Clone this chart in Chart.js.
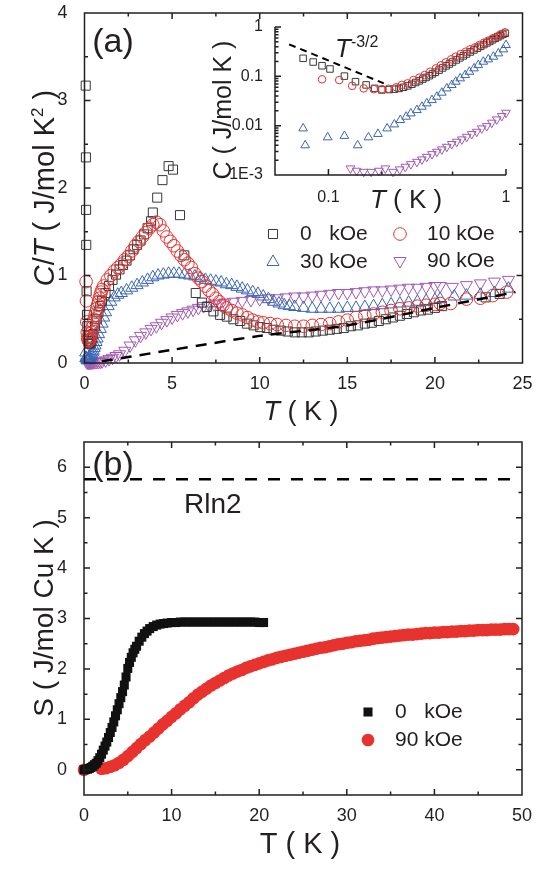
<!DOCTYPE html>
<html lang="en">
<head>
<meta charset="UTF-8">
<title>C/T and entropy vs T</title>
<script src="https://cdn.jsdelivr.net/npm/chart.js@4.4.1/dist/chart.umd.min.js"></script>
<style>
  body { margin: 0; background: #ffffff; }
  #wrap { position: relative; width: 547px; height: 875px; }
  canvas { position: absolute; }
  #chartA { left: 0; top: 0; }
  #chartIn { left: 180px; top: 10px; }
  #chartB { left: 0; top: 430px; }
</style>
</head>
<body>
<div id="wrap">
  <canvas id="chartA" width="547" height="430"></canvas>
  <canvas id="chartIn" width="340" height="210"></canvas>
  <canvas id="chartB" width="547" height="445"></canvas>
</div>

<script>
// ---- panel (a): C/T (J/mol K^2) vs T (K), pairs [T, C/T]
const ctA0 = [[0.07,3.17],[0.08,2.35],[0.09,1.75],[0.1,1.35],[0.12,0.82],[0.14,0.55],[0.16,0.42],[0.18,0.32],[0.2,0.27],[0.22,0.25],[0.25,0.23],[0.3,0.22],[0.35,0.23],[0.4,0.25],[0.45,0.29],[0.5,0.33],[0.6,0.42],[0.7,0.5],[0.8,0.58],[0.9,0.65],[1.0,0.71],[1.2,0.8],[1.4,0.88],[1.6,0.95],[1.8,1.01],[2.0,1.07],[2.2,1.12],[2.4,1.17],[2.6,1.23],[2.8,1.3],[3.0,1.35],[3.2,1.4],[3.4,1.47],[3.6,1.54],[3.8,1.62],[3.9,1.72],[4.15,1.89],[4.45,2.09],[4.8,2.25],[5.05,2.21],[5.45,1.69],[5.7,1.23],[6.35,0.8],[6.7,0.69],[6.98,0.64],[7.36,0.59],[7.74,0.55],[8.12,0.53],[8.5,0.5],[8.89,0.48],[9.27,0.45],[9.65,0.43],[10.03,0.41],[10.41,0.4],[10.79,0.38],[11.2,0.37],[11.6,0.36],[12.0,0.35],[12.4,0.35],[12.8,0.35],[13.2,0.36],[13.6,0.37],[14.0,0.38],[14.4,0.39],[14.8,0.4],[15.2,0.42],[15.6,0.43],[16.0,0.45],[16.4,0.46],[16.8,0.48],[17.2,0.5],[17.6,0.52],[18.0,0.54],[18.4,0.56],[18.8,0.58],[19.2,0.6],[19.6,0.61],[20.0,0.63],[20.4,0.65],[22.9,0.75],[23.7,0.79]];
const ctA10 = [[0.09,0.93],[0.11,0.71],[0.13,0.47],[0.155,0.35],[0.18,0.29],[0.21,0.26],[0.25,0.25],[0.3,0.27],[0.35,0.3],[0.4,0.35],[0.45,0.41],[0.5,0.46],[0.55,0.5],[0.6,0.54],[0.65,0.58],[0.7,0.62],[0.75,0.66],[0.8,0.7],[0.85,0.74],[0.9,0.78],[0.95,0.81],[1.0,0.84],[1.1,0.88],[1.3,0.95],[1.5,1.0],[1.7,1.05],[1.9,1.09],[2.1,1.13],[2.3,1.18],[2.5,1.22],[2.7,1.28],[2.9,1.34],[3.1,1.39],[3.3,1.44],[3.5,1.49],[3.7,1.54],[3.9,1.58],[4.1,1.61],[4.3,1.58],[4.5,1.51],[4.7,1.44],[4.9,1.39],[5.1,1.34],[5.3,1.28],[5.5,1.23],[5.7,1.18],[5.9,1.14],[6.1,1.09],[6.3,1.02],[6.5,0.97],[6.7,0.93],[6.9,0.88],[7.1,0.83],[7.3,0.79],[7.5,0.74],[7.7,0.7],[7.9,0.66],[8.1,0.63],[8.4,0.6],[8.7,0.57],[9.0,0.55],[9.3,0.52],[9.6,0.49],[9.9,0.47],[10.2,0.46],[10.6,0.45],[11.0,0.44],[11.5,0.43],[12.0,0.42],[12.5,0.42],[13.0,0.43],[13.5,0.44],[14.0,0.45],[14.5,0.47],[15.0,0.49],[15.5,0.52],[16.0,0.54],[16.5,0.56],[17.0,0.58],[17.5,0.6],[18.0,0.62],[18.5,0.63],[19.0,0.65],[19.5,0.66],[20.0,0.67],[20.3,0.68],[20.9,0.68],[21.8,0.73],[22.6,0.74],[23.3,0.77],[24.1,0.81]];
const ctA30 = [[0.07,0.12],[0.075,0.055],[0.1,0.058],[0.12,0.05],[0.15,0.03],[0.17,0.034],[0.19,0.036],[0.21,0.041],[0.24,0.046],[0.27,0.055],[0.3,0.063],[0.34,0.073],[0.38,0.085],[0.42,0.1],[0.46,0.12],[0.5,0.14],[0.55,0.17],[0.6,0.2],[0.66,0.24],[0.72,0.28],[0.8,0.33],[0.9,0.39],[1.0,0.45],[1.1,0.52],[1.2,0.58],[1.35,0.65],[1.5,0.7],[1.7,0.75],[1.9,0.78],[2.1,0.8],[2.4,0.83],[2.7,0.86],[3.0,0.89],[3.3,0.92],[3.6,0.95],[3.9,0.98],[4.2,1.0],[4.5,1.01],[4.8,1.02],[5.1,1.02],[5.4,1.02],[5.7,1.01],[6.0,1.0],[6.3,0.99],[6.6,0.97],[6.9,0.95],[7.2,0.94],[7.5,0.93],[7.8,0.92],[8.1,0.9],[8.4,0.89],[8.7,0.87],[9.0,0.85],[9.3,0.83],[9.6,0.81],[9.9,0.79],[10.2,0.76],[10.5,0.73],[10.8,0.7],[11.1,0.68],[11.4,0.66],[11.7,0.65],[12.0,0.64],[12.5,0.63],[13.0,0.62],[13.5,0.62],[14.0,0.62],[14.5,0.62],[15.0,0.63],[15.5,0.63],[16.0,0.64],[16.5,0.65],[17.0,0.66],[17.5,0.67],[18.0,0.68],[18.5,0.69],[19.0,0.7],[19.5,0.71],[20.0,0.72],[20.3,0.73],[21.1,0.76],[21.8,0.77],[22.6,0.78],[23.4,0.8],[24.2,0.85]];
const ctA90 = [[0.13,0.01],[0.17,0.007],[0.21,0.006],[0.25,0.005],[0.3,0.006],[0.35,0.006],[0.4,0.007],[0.45,0.008],[0.5,0.009],[0.6,0.01],[0.7,0.011],[0.8,0.013],[0.9,0.015],[1.0,0.018],[1.2,0.03],[1.4,0.045],[1.6,0.06],[1.8,0.08],[2.0,0.1],[2.3,0.14],[2.6,0.2],[2.9,0.26],[3.2,0.31],[3.5,0.35],[3.8,0.39],[4.1,0.42],[4.4,0.46],[4.7,0.49],[5.0,0.52],[5.3,0.55],[5.6,0.57],[5.9,0.59],[6.2,0.61],[6.5,0.63],[6.8,0.65],[7.1,0.66],[7.4,0.67],[7.7,0.68],[8.0,0.69],[8.5,0.7],[9.0,0.71],[9.5,0.72],[10.0,0.73],[10.5,0.74],[11.0,0.74],[11.5,0.75],[12.0,0.76],[12.5,0.76],[13.0,0.77],[13.5,0.78],[14.0,0.79],[14.5,0.8],[15.0,0.8],[15.5,0.81],[16.0,0.82],[16.5,0.83],[17.0,0.83],[17.5,0.84],[18.0,0.85],[18.5,0.86],[19.0,0.86],[19.5,0.87],[20.0,0.88],[20.3,0.88],[21.0,0.87],[21.8,0.89],[22.6,0.91],[23.4,0.93],[24.2,0.95]];
const ctPhonon = [[1.0,0.02],[5,0.15],[10,0.31],[15,0.43],[20,0.63],[24.6,0.81]];

// ---- inset: C (J/mol K) vs T (K), log-log
const cIn0 = [[0.072,0.232],[0.082,0.195],[0.092,0.164],[0.102,0.141],[0.123,0.101],[0.142,0.078],[0.163,0.067],[0.182,0.057],[0.2,0.053],[0.22,0.054],[0.235,0.055],[0.25,0.057],[0.265,0.06],[0.28,0.064],[0.295,0.069],[0.31,0.075],[0.325,0.081],[0.34,0.088],[0.355,0.095],[0.37,0.103],[0.385,0.112],[0.4,0.121],[0.42,0.134],[0.44,0.148],[0.46,0.163],[0.48,0.178],[0.5,0.195],[0.525,0.215],[0.55,0.237],[0.575,0.26],[0.6,0.284],[0.63,0.312],[0.66,0.342],[0.69,0.373],[0.72,0.405],[0.75,0.44],[0.78,0.475],[0.81,0.51],[0.84,0.55],[0.87,0.59],[0.9,0.63],[0.93,0.67],[0.96,0.71],[0.99,0.745]];
const cIn10 = [[0.092,0.087],[0.115,0.084],[0.136,0.064],[0.158,0.057],[0.18,0.055],[0.2,0.055],[0.218,0.056],[0.241,0.06],[0.259,0.067],[0.279,0.072],[0.301,0.084],[0.325,0.094],[0.348,0.106],[0.374,0.124],[0.403,0.145],[0.43,0.167],[0.458,0.192],[0.491,0.221],[0.521,0.25],[0.556,0.283],[0.594,0.316],[0.628,0.352],[0.67,0.387],[0.708,0.431],[0.752,0.481],[0.794,0.528],[0.842,0.589],[0.887,0.637],[0.933,0.71],[0.987,0.78]];
const cIn30 = [[0.072,0.0088],[0.074,0.004],[0.099,0.0058],[0.123,0.0062],[0.146,0.004],[0.168,0.0058],[0.19,0.0068],[0.214,0.0088],[0.235,0.0106],[0.254,0.013],[0.274,0.0152],[0.291,0.0177],[0.315,0.0207],[0.336,0.0242],[0.358,0.0283],[0.383,0.033],[0.408,0.0386],[0.435,0.0466],[0.464,0.057],[0.495,0.0666],[0.521,0.0778],[0.552,0.091],[0.589,0.106],[0.622,0.124],[0.661,0.145],[0.698,0.169],[0.745,0.198],[0.795,0.221],[0.849,0.25],[0.906,0.292],[0.966,0.352],[1.0,0.431]];
const cIn90 = [[0.133,0.00136],[0.144,0.00122],[0.158,0.00116],[0.174,0.00116],[0.192,0.00122],[0.209,0.00136],[0.231,0.00116],[0.252,0.0013],[0.271,0.00147],[0.291,0.00166],[0.315,0.00185],[0.336,0.00207],[0.358,0.00234],[0.383,0.00265],[0.408,0.00296],[0.435,0.0033],[0.464,0.00373],[0.495,0.00424],[0.528,0.00472],[0.564,0.00527],[0.601,0.00596],[0.641,0.00676],[0.684,0.00752],[0.73,0.0088],[0.779,0.0098],[0.832,0.0115],[0.887,0.0134],[0.946,0.0157],[1.0,0.0183]];
const cInPower = [[0.06,0.446],[0.205,0.072]];

// ---- panel (b): S (J/mol Cu K) vs T (K)
const sB0 = [[0,0],[0.2,0.005],[0.4,0.012],[0.6,0.025],[0.8,0.045],[1.0,0.07],[1.2,0.1],[1.4,0.13],[1.6,0.18],[1.8,0.24],[2.0,0.31],[2.2,0.39],[2.4,0.47],[2.6,0.55],[2.8,0.64],[3.0,0.74],[3.2,0.84],[3.4,0.95],[3.6,1.07],[3.8,1.19],[4.0,1.31],[4.2,1.43],[4.4,1.55],[4.6,1.68],[4.8,1.84],[5.0,2.01],[5.2,2.13],[5.4,2.23],[5.6,2.32],[5.8,2.39],[6.0,2.45],[6.3,2.55],[6.6,2.63],[6.9,2.7],[7.2,2.75],[7.5,2.8],[7.9,2.84],[8.3,2.87],[8.7,2.89],[9.1,2.9],[9.5,2.91],[10,2.92],[10.5,2.92],[11,2.93],[11.5,2.93],[12,2.93],[12.5,2.93],[13,2.93],[13.5,2.93],[14,2.93],[14.5,2.93],[15,2.93],[15.5,2.93],[16,2.93],[16.5,2.93],[17,2.93],[17.5,2.93],[18,2.93],[18.5,2.93],[19,2.93],[19.5,2.93],[20,2.92],[20.5,2.92]];
const sB90 = [[0,0],[2.0,0.02],[2.5,0.03],[3.0,0.06],[3.5,0.09],[4.0,0.14],[4.5,0.2],[5.0,0.27],[5.5,0.35],[6.0,0.43],[6.5,0.51],[7.0,0.59],[7.5,0.66],[8.0,0.74],[8.5,0.82],[9.0,0.9],[9.5,0.97],[10.0,1.05],[10.5,1.12],[11.0,1.2],[11.5,1.27],[12.0,1.34],[12.5,1.42],[13.0,1.49],[13.5,1.55],[14.0,1.61],[14.5,1.67],[15.0,1.72],[15.5,1.77],[16.0,1.82],[16.5,1.87],[17.0,1.91],[17.5,1.95],[18.0,1.98],[18.5,2.02],[19.0,2.05],[19.5,2.08],[20.0,2.11],[20.5,2.14],[21.0,2.17],[21.5,2.19],[22.0,2.22],[22.5,2.24],[23.0,2.26],[23.5,2.28],[24.0,2.3],[24.5,2.32],[25.0,2.34],[25.5,2.36],[26.0,2.38],[26.5,2.4],[27.0,2.42],[27.5,2.43],[28.0,2.45],[28.5,2.47],[29.0,2.49],[29.5,2.5],[30.0,2.52],[30.5,2.53],[31.0,2.55],[31.5,2.56],[32.0,2.57],[32.5,2.58],[33.0,2.6],[33.5,2.61],[34.0,2.62],[34.5,2.63],[35.0,2.64],[35.5,2.65],[36.0,2.66],[36.5,2.67],[37.0,2.68],[37.5,2.68],[38.0,2.69],[38.5,2.7],[39.0,2.71],[39.5,2.71],[40.0,2.72],[40.5,2.72],[41.0,2.73],[41.5,2.73],[42.0,2.74],[42.5,2.74],[43.0,2.75],[43.5,2.75],[44.0,2.76],[44.5,2.76],[45.0,2.77],[45.5,2.77],[46.0,2.77],[46.5,2.78],[47.0,2.78],[47.5,2.78],[48.0,2.79],[48.5,2.79],[49.0,2.79]];
const rln2 = [[0,5.76],[49,5.76]];

// ---- ticks
const aXMajor = [0, 5, 10, 15, 20, 25], aXMinor = [2.5, 7.5, 12.5, 17.5, 22.5];
const aYMajor = [0, 1, 2, 3, 4], aYMinor = [0.5, 1.5, 2.5, 3.5];
const inXMajor = [0.1, 1], inXMinor = [0.2, 0.5], inXLabels = ['0.1', '1'];
const inYMajor = [0.001, 0.01, 0.1, 1], inYLabels = ['1E-3', '0.01', '0.1', '1'];
const inYMinor = [0.002,0.003,0.004,0.005,0.006,0.007,0.008,0.009,0.02,0.03,0.04,0.05,0.06,0.07,0.08,0.09,0.2,0.3,0.4,0.5,0.6,0.7,0.8,0.9];
const bXMajor = [0, 10, 20, 30, 40, 50], bXMinor = [5, 15, 25, 35, 45];
const bYMajor = [0, 1, 2, 3, 4, 5, 6], bYMinor = [0.5, 1.5, 2.5, 3.5, 4.5, 5.5];

const FONT = '"Liberation Sans", Arial, sans-serif';
const INK = '#231f20';
const RED = '#e8322e', BLUE = '#3a66b4', PURPLE = '#a259b4', BLACK = '#383838';

const pts = arr => arr.map(([x, y]) => ({ x, y }));

function axis(o) {
  return {
    type: o.type || 'linear', min: o.min, max: o.max,
    grid: { display: false }, border: { display: false },
    afterBuildTicks: s => { s.ticks = o.ticks.map(v => ({ value: v })); },
    ticks: {
      font: { family: FONT, size: o.font }, color: INK, padding: o.pad,
      autoSkip: false, maxRotation: 0, minRotation: 0,
      callback: (v, i) => o.labels ? o.labels[i] : String(v)
    },
    afterFit: s => {
      if (s.isHorizontal()) s.height = o.fit; else s.width = o.fit;
      s.paddingLeft = s.paddingRight = s.paddingTop = s.paddingBottom = 0;
    }
  };
}

// frame + inward tick marks
function axisBox(c) {
  return {
    id: 'axisBox',
    afterDatasetsDraw(chart) {
      const { ctx, chartArea: a } = chart;
      const sx = chart.scales.x, sy = chart.scales.y;
      ctx.save();
      ctx.strokeStyle = INK; ctx.lineWidth = 1.5;
      ctx.beginPath();
      if (c.box) ctx.rect(a.left, a.top, a.right - a.left, a.bottom - a.top);
      else { ctx.moveTo(a.left, a.top); ctx.lineTo(a.left, a.bottom); ctx.lineTo(a.right, a.bottom); }
      const mark = (vals, len, horiz) => vals.forEach(v => {
        if (horiz) {
          const p = sx.getPixelForValue(v);
          ctx.moveTo(p, a.bottom); ctx.lineTo(p, a.bottom - len);
          if (c.box) { ctx.moveTo(p, a.top); ctx.lineTo(p, a.top + len); }
        } else {
          const p = sy.getPixelForValue(v);
          ctx.moveTo(a.left, p); ctx.lineTo(a.left + len, p);
          if (c.box) { ctx.moveTo(a.right, p); ctx.lineTo(a.right - len, p); }
        }
      });
      mark(c.xMajor, 6, true); mark(c.xMinor, 3.5, true);
      mark(c.yMajor, 6, false); mark(c.yMinor, 3.5, false);
      ctx.stroke();
      ctx.restore();
    }
  };
}

// text with italic / superscript parts; x,y = anchor on baseline
function rich(ctx, parts, x, y, size, o = {}) {
  ctx.save();
  ctx.translate(x, y);
  if (o.rot) ctx.rotate(o.rot);
  ctx.fillStyle = INK; ctx.textBaseline = 'alphabetic'; ctx.textAlign = 'left';
  const font = s => (s === 'i' ? 'italic ' : '') + (s === 'sup' ? Math.round(size * 0.6) : size) + 'px ' + FONT;
  let w = 0;
  parts.forEach(([t, s]) => { ctx.font = font(s); w += ctx.measureText(t).width; });
  let cx = o.left ? 0 : -w / 2;
  parts.forEach(([t, s]) => {
    ctx.font = font(s);
    ctx.fillText(t, cx, s === 'sup' ? -size * 0.38 : 0);
    cx += ctx.measureText(t).width;
  });
  ctx.restore();
}

function legendRow(ctx, style, color, filled, r, x, y, label, rot) {
  ctx.save();
  ctx.strokeStyle = color; ctx.fillStyle = filled ? color : 'rgba(0,0,0,0)';
  ctx.lineWidth = 1;
  Chart.helpers.drawPoint(ctx, { pointStyle: style, radius: r, rotation: rot || 0, borderWidth: filled ? 0 : 1 }, x, y);
  ctx.restore();
  ctx.save();
  ctx.fillStyle = INK; ctx.font = '21px ' + FONT; ctx.textBaseline = 'middle';
  ctx.fillText(label, x + 27, y);
  ctx.restore();
}

function notes(fn) { return { id: 'notes', afterDraw(chart) { fn(chart.ctx); } }; }

const common = {
  responsive: false, animation: false, devicePixelRatio: 1,
  plugins: { legend: { display: false }, tooltip: { enabled: false } },
  events: []
};

function hollow(data, style, color, r, rot) {
  return { data: pts(data), pointStyle: style, pointRadius: r, pointRotation: rot || 0,
    pointBorderColor: color, pointBackgroundColor: 'rgba(0,0,0,0)', pointBorderWidth: 1,
    showLine: false, clip: false };
}
function dashed(data, w, dash, tension) {
  return { data: pts(data), showLine: true, borderColor: '#000', borderWidth: w, borderDash: dash,
    pointRadius: 0, tension: tension || 0, clip: false };
}

// ---------- panel (a)
new Chart(document.getElementById('chartA'), {
  type: 'scatter',
  data: { datasets: [
    dashed(ctPhonon, 2.5, [11, 8], 0.3),
    hollow(ctA10, 'circle', RED, 6.3),
    hollow(ctA0, 'rect', BLACK, 6.4),
    hollow(ctA30, 'triangle', BLUE, 7),
    hollow(ctA90, 'triangle', PURPLE, 7, 180)
  ] },
  options: Object.assign({}, common, {
    layout: { padding: { top: 13, right: 24.5, left: 0, bottom: 0 } },
    scales: {
      x: axis({ min: 0, max: 25, ticks: aXMajor, font: 18, pad: 2, fit: 67 }),
      y: axis({ min: 0, max: 4, ticks: aYMajor, font: 18, pad: 9, fit: 84.5 })
    }
  }),
  plugins: [
    axisBox({ box: true, xMajor: aXMajor, xMinor: aXMinor, yMajor: aYMajor, yMinor: aYMinor }),
    notes(ctx => {
      rich(ctx, [['(a)', '']], 113, 52, 34);
      rich(ctx, [['T', 'i'], [' ( K )', '']], 301, 420, 27);
      rich(ctx, [['C', 'i'], ['/', ''], ['T', 'i'], [' ( J/mol K', ''], ['2', 'sup'], [' )', '']], 54, 188, 29, { rot: -Math.PI / 2 });
      legendRow(ctx, 'rect', BLACK, false, 6.4, 273, 234, '0   kOe');
      legendRow(ctx, 'circle', RED, false, 6.3, 400, 234, '10 kOe');
      legendRow(ctx, 'triangle', BLUE, false, 7, 273, 262, '30 kOe');
      legendRow(ctx, 'triangle', PURPLE, false, 7, 400, 261, '90 kOe', 180);
    })
  ]
});

// ---------- inset
new Chart(document.getElementById('chartIn'), {
  type: 'scatter',
  data: { datasets: [
    dashed(cInPower, 2, [7, 5]),
    hollow(cIn10, 'circle', RED, 3.8),
    hollow(cIn0, 'rect', BLACK, 4.6),
    hollow(cIn30, 'triangle', BLUE, 5),
    hollow(cIn90, 'triangle', PURPLE, 5, 180)
  ] },
  options: Object.assign({}, common, {
    layout: { padding: { top: 17, right: 14, left: 0, bottom: 0 } },
    scales: {
      x: axis({ type: 'logarithmic', min: 0.05, max: 1, ticks: inXMajor, labels: inXLabels, font: 16, pad: 5, fit: 45 }),
      y: axis({ type: 'logarithmic', min: 0.001, max: 1, ticks: inYMajor, labels: inYLabels, font: 16, pad: 4, fit: 95 })
    }
  }),
  plugins: [
    axisBox({ box: false, xMajor: inXMajor, xMinor: inXMinor, yMajor: inYMajor, yMinor: inYMinor }),
    notes(ctx => {
      rich(ctx, [['T', 'i'], [' ( K )', '']], 226, 198, 26);
      rich(ctx, [['C ( J/mol K )', '']], 51, 100, 25, { rot: -Math.PI / 2 });
      rich(ctx, [['T', 'i'], ['-3/2', 'sup']], 155, 47, 26, { left: true });
    })
  ]
});

// ---------- panel (b)
new Chart(document.getElementById('chartB'), {
  type: 'scatter',
  data: { datasets: [
    dashed(rln2, 2.5, [12, 11]),
    { data: pts(sB0), pointStyle: 'rect', pointRadius: 6.4, pointBackgroundColor: '#111', pointBorderWidth: 0, showLine: false, clip: false },
    { data: pts(sB90), pointStyle: 'circle', pointRadius: 6.3, pointBackgroundColor: RED, pointBorderWidth: 0, showLine: false, clip: false }
  ] },
  options: Object.assign({}, common, {
    layout: { padding: { top: 12, right: 25, left: 0, bottom: 0 } },
    scales: {
      x: axis({ min: 0, max: 50, ticks: bXMajor, font: 18, pad: 2, fit: 80 }),
      y: axis({ min: -0.5, max: 6.5, ticks: bYMajor, font: 18, pad: 9, fit: 84 })
    }
  }),
  plugins: [
    axisBox({ box: true, xMajor: bXMajor, xMinor: bXMinor, yMajor: bYMajor, yMinor: bYMinor }),
    notes(ctx => {
      rich(ctx, [['(b)', '']], 113, 45, 34);
      rich(ctx, [['Rln2', '']], 184, 83, 28, { left: true });
      rich(ctx, [['T ( K )', '']], 300, 423, 29);
      rich(ctx, [['S ( J/mol Cu K )', '']], 53, 188, 28, { rot: -Math.PI / 2 });
      legendRow(ctx, 'rect', '#111', true, 6.4, 368, 282, '0   kOe');
      legendRow(ctx, 'circle', RED, true, 6.3, 368, 310, '90 kOe');
    })
  ]
});
</script>
</body>
</html>
